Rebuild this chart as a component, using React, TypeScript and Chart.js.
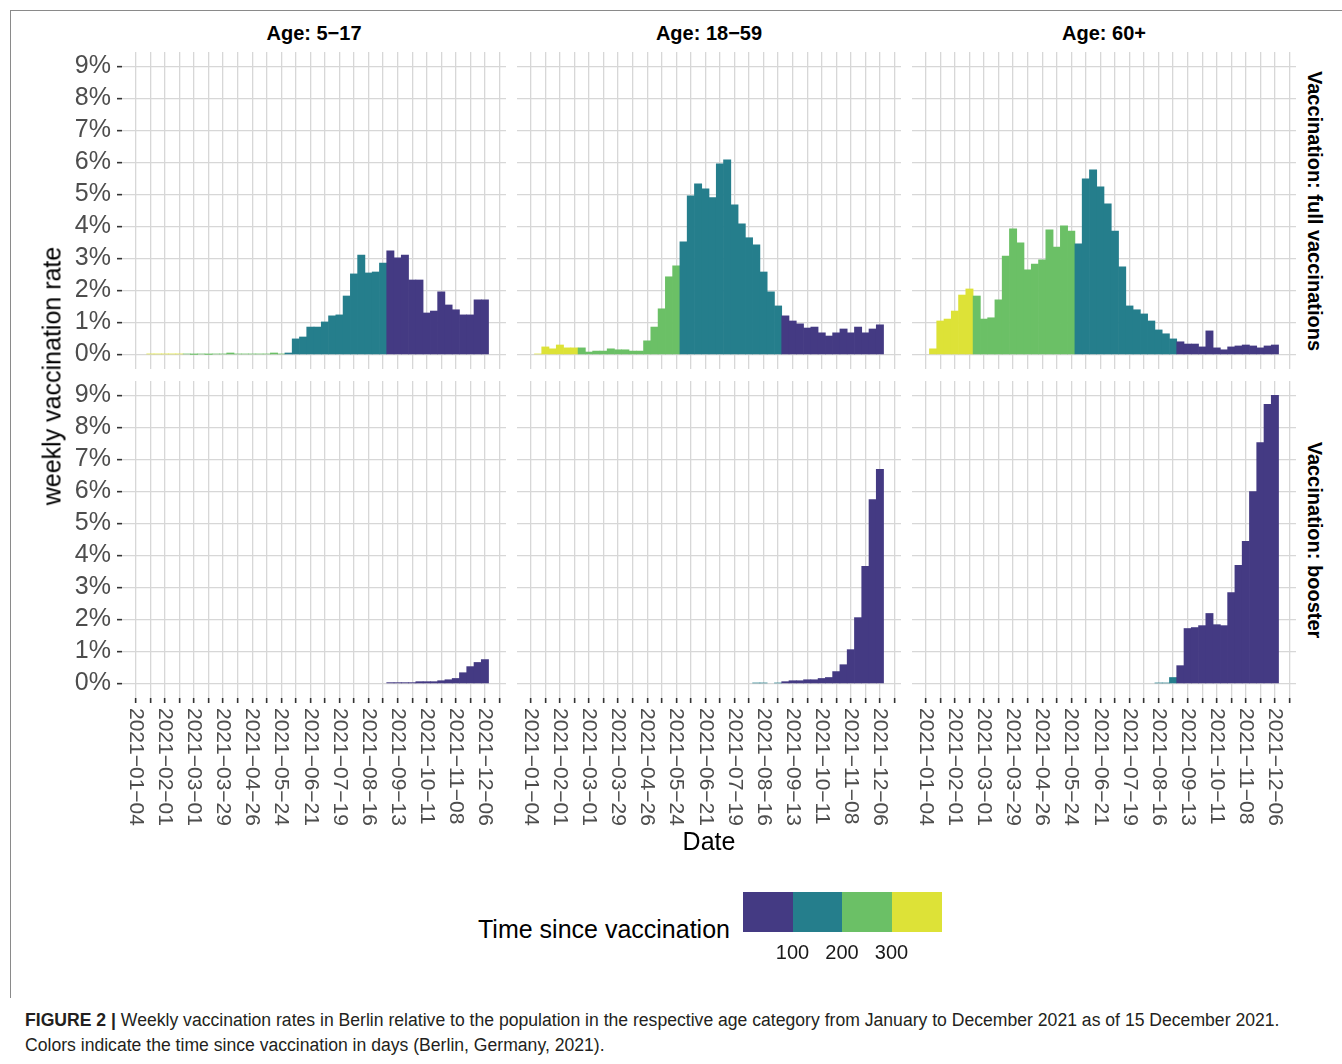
import React, { useEffect, useRef } from "react";
import { Chart, registerables } from "chart.js";

Chart.register(...registerables);

// ---------- data ----------
const WEEKS = [
  "2021-01-11", "2021-01-18", "2021-01-25", "2021-02-01", "2021-02-08", "2021-02-15",
  "2021-02-22", "2021-03-01", "2021-03-08", "2021-03-15", "2021-03-22", "2021-03-29",
  "2021-04-05", "2021-04-12", "2021-04-19", "2021-04-26", "2021-05-03", "2021-05-10",
  "2021-05-17", "2021-05-24", "2021-05-31", "2021-06-07", "2021-06-14", "2021-06-21",
  "2021-06-28", "2021-07-05", "2021-07-12", "2021-07-19", "2021-07-26", "2021-08-02",
  "2021-08-09", "2021-08-16", "2021-08-23", "2021-08-30", "2021-09-06", "2021-09-13",
  "2021-09-20", "2021-09-27", "2021-10-04", "2021-10-11", "2021-10-18", "2021-10-25",
  "2021-11-01", "2021-11-08", "2021-11-15", "2021-11-22", "2021-11-29", "2021-12-06",
];

const FULL_5_17 = [
  null, 0.02, 0.02, 0.02, 0.02, 0.02, 0.02, 0.005, 0.02, 0.005, 0.02, 0.02,
  0.05, 0.02, 0.02, 0.02, 0.02, 0.02, 0.05, 0.02, 0.05, 0.49, 0.55, 0.86,
  0.86, 1.02, 1.21, 1.24, 1.83, 2.52, 3.11, 2.55, 2.58, 2.86, 3.24, 3.02,
  3.11, 2.33, 2.33, 1.3, 1.36, 1.96, 1.55, 1.4, 1.24, 1.24, 1.71, 1.71,
];
const FULL_18_59 = [
  0.02, 0.24, 0.18, 0.3, 0.21, 0.21, 0.21, 0.08, 0.11, 0.11, 0.18, 0.15,
  0.15, 0.11, 0.11, 0.43, 0.86, 1.43, 2.43, 2.77, 3.52, 4.96, 5.33, 5.18,
  4.9, 5.96, 6.08, 4.68, 4.08, 3.65, 3.43, 2.58, 1.96, 1.52, 1.21, 1.05,
  0.96, 0.83, 0.86, 0.68, 0.58, 0.68, 0.8, 0.68, 0.86, 0.68, 0.8, 0.93,
];
const FULL_60_PLUS = [
  0.18, 1.05, 1.11, 1.36, 1.86, 2.05, 1.83, 1.11, 1.15, 1.71, 3.08, 3.93,
  3.49, 2.65, 2.83, 2.96, 3.9, 3.36, 4.02, 3.86, 3.46, 5.49, 5.77, 5.24,
  4.71, 3.86, 2.74, 1.52, 1.4, 1.27, 1.05, 0.77, 0.65, 0.49, 0.4, 0.33,
  0.33, 0.24, 0.74, 0.21, 0.15, 0.24, 0.27, 0.3, 0.27, 0.21, 0.27, 0.3,
];
const BOOSTER_5_17 = [
  null, null, null, null, null, null, null, null, null, null, null, null,
  null, null, null, null, null, null, null, null, null, null, null, null,
  null, null, null, null, null, null, null, null, null, null, 0.03, 0.03,
  0.03, 0.03, 0.06, 0.06, 0.06, 0.09, 0.12, 0.16, 0.34, 0.53, 0.66, 0.75,
];
const BOOSTER_18_59 = [
  null, null, null, null, null, null, null, null, null, null, null, null,
  null, null, null, null, null, null, null, null, null, null, null, null,
  null, null, null, null, null, null, 0.02, 0.02, null, 0.02, 0.06, 0.09,
  0.09, 0.12, 0.12, 0.16, 0.19, 0.375, 0.59, 1.06, 2.06, 3.66, 5.75, 6.69,
];
const BOOSTER_60_PLUS = [
  null, null, null, null, null, null, null, null, null, null, null, null,
  null, null, null, null, null, null, null, null, null, null, null, null,
  null, null, null, null, null, null, null, 0.02, 0.02, 0.19, 0.56, 1.72,
  1.75, 1.81, 2.19, 1.84, 1.81, 2.84, 3.69, 4.44, 6.0, 7.53, 8.72, 9.0,
];

const AGE_GROUPS = ["Age: 5\u221217", "Age: 18\u221259", "Age: 60+"];
const ROW_LABELS = ["Vaccination: full vaccinations", "Vaccination: booster"];
const SERIES = [
  [FULL_5_17, FULL_18_59, FULL_60_PLUS],
  [BOOSTER_5_17, BOOSTER_18_59, BOOSTER_60_PLUS],
];

const X_GRID_DATES = [
  "2021-01-04", "2021-01-18", "2021-02-01", "2021-02-15", "2021-03-01", "2021-03-15",
  "2021-03-29", "2021-04-12", "2021-04-26", "2021-05-10", "2021-05-24", "2021-06-07",
  "2021-06-21", "2021-07-05", "2021-07-19", "2021-08-02", "2021-08-16", "2021-08-30",
  "2021-09-13", "2021-09-27", "2021-10-11", "2021-10-25", "2021-11-08", "2021-11-22",
  "2021-12-06", "2021-12-20",
];
const X_LABEL_DATES = [
  "2021-01-04", "2021-02-01", "2021-03-01", "2021-03-29", "2021-04-26", "2021-05-24",
  "2021-06-21", "2021-07-19", "2021-08-16", "2021-09-13", "2021-10-11", "2021-11-08",
  "2021-12-06",
];
const Y_TICKS = [0, 1, 2, 3, 4, 5, 6, 7, 8, 9];

const AS_OF = "2021-12-15";
const LEGEND_BREAKS = [100, 200, 300];
const LEGEND_COLORS = ["#443A83", "#257E8C", "#6BC066", "#DDE237"];

// ---------- helpers / style ----------
const FONT = '"Liberation Sans", Arial, Helvetica, sans-serif';
const GRID = "#D7D7D7";
const ORIGIN = Date.UTC(2021, 0, 4);
function dayNum(d: string) {
  const [y, m, dd] = d.split("-").map(Number);
  return (Date.UTC(y, m - 1, dd) - ORIGIN) / 86400000;
}
function colorFor(d: string) {
  const since = dayNum(AS_OF) - dayNum(d);
  let i = 0;
  while (i < LEGEND_BREAKS.length && since > LEGEND_BREAKS[i]) i++;
  return LEGEND_COLORS[i];
}

const X_MIN = -13.3;
const X_MAX = 356.3;
const Y_MIN = -0.45;
const Y_MAX = 9.45;

const PANEL_LEFT = [122, 517, 912];
const PANEL_W = 384;
const ROW_TOP = [52, 381];
const PANEL_H = 317;
const Y_AXIS_LEFT = 60;
const X_AXIS_H = 140;

function Panel({ col, row }: { col: number; row: number }) {
  const ref = useRef<HTMLCanvasElement>(null);
  const values = SERIES[row][col];
  const yAxisW = col === 0 ? PANEL_LEFT[0] - Y_AXIS_LEFT : 0;
  const left = PANEL_LEFT[col] - yAxisW;
  const width = PANEL_W + yAxisW;
  const xAxisH = row === 1 ? X_AXIS_H : 0;
  const height = PANEL_H + xAxisH;

  useEffect(() => {
    const showXLabels = row === 1;
    const xLabelPlugin = {
      id: "xlabels",
      afterDraw(chart: any) {
        if (!showXLabels) return;
        const s = chart.scales.x;
        const ctx = chart.ctx;
        ctx.save();
        ctx.font = `21px ${FONT}`;
        ctx.fillStyle = "#4D4D4D";
        ctx.textAlign = "left";
        ctx.textBaseline = "middle";
        const y0 = chart.chartArea.bottom + 10;
        for (const d of X_LABEL_DATES) {
          const x = s.getPixelForValue(dayNum(d));
          ctx.save();
          ctx.translate(x, y0);
          ctx.rotate(Math.PI / 2);
          ctx.fillText(d.replace(/-/g, "\u2212"), 0, 0);
          ctx.restore();
        }
        ctx.restore();
      },
    };
    const chart = new Chart(ref.current as HTMLCanvasElement, {
      type: "bar",
      data: {
        datasets: [
          {
            data: WEEKS.map((d, i) => ({ x: dayNum(d), y: values[i] })) as any,
            backgroundColor: WEEKS.map((d) => colorFor(d)),
            borderWidth: 0,
            barPercentage: 1,
            categoryPercentage: 1,
          },
        ],
      },
      options: {
        animation: false,
        responsive: false,
        maintainAspectRatio: false,
        devicePixelRatio: 1,
        layout: { padding: 0 },
        plugins: { legend: { display: false }, tooltip: { enabled: false }, title: { display: false } },
        scales: {
          x: {
            type: "linear",
            min: X_MIN,
            max: X_MAX,
            offset: false,
            grid: {
              offset: false,
              color: GRID,
              lineWidth: 1.3,
              drawTicks: row === 1,
              tickLength: 5,
              tickColor: "#333333",
              tickWidth: 1.6,
            },
            border: { display: false },
            ticks: { display: false, autoSkip: false },
            afterBuildTicks: (s: any) => {
              s.ticks = X_GRID_DATES.map((d) => ({ value: dayNum(d) }));
            },
            afterFit: (s: any) => {
              s.height = xAxisH;
              s.paddingLeft = 0;
              s.paddingRight = 0;
              s.paddingTop = 0;
              s.paddingBottom = 0;
            },
          },
          y: {
            type: "linear",
            min: Y_MIN,
            max: Y_MAX,
            beginAtZero: false,
            grid: {
              color: GRID,
              lineWidth: 1.3,
              drawTicks: col === 0,
              tickLength: 5,
              tickColor: "#333333",
              tickWidth: 1.6,
            },
            border: { display: false },
            ticks: {
              display: col === 0,
              autoSkip: false,
              padding: 6,
              color: "#4D4D4D",
              font: { family: FONT, size: 25 },
              callback: (v: any) => `${v}%`,
            },
            afterBuildTicks: (s: any) => {
              s.ticks = Y_TICKS.map((v) => ({ value: v }));
            },
            afterFit: (s: any) => {
              s.width = yAxisW;
              s.paddingLeft = 0;
              s.paddingRight = 0;
              s.paddingTop = 0;
              s.paddingBottom = 0;
            },
          },
        },
      } as any,
      plugins: [xLabelPlugin],
    });
    return () => chart.destroy();
  }, []);

  return (
    <canvas
      ref={ref}
      width={width}
      height={height}
      style={{ position: "absolute", left, top: ROW_TOP[row], width, height }}
    />
  );
}

function Text({
  x,
  y,
  children,
  size,
  bold,
  rotate,
  color,
  align,
}: {
  x: number;
  y: number;
  children: any;
  size: number;
  bold?: boolean;
  rotate?: number;
  color?: string;
  align?: "center" | "left";
}) {
  const tx = align === "left" ? "0" : "-50%";
  return (
    <div
      style={{
        position: "absolute",
        left: x,
        top: y,
        transform: `translate(${tx}, -50%)${rotate ? ` rotate(${rotate}deg)` : ""}`,
        fontFamily: FONT,
        fontSize: size,
        fontWeight: bold ? "bold" : "normal",
        color: color || "#000",
        whiteSpace: "nowrap",
        lineHeight: 1,
      }}
    >
      {children}
    </div>
  );
}

export default function App() {
  const legendX = 743;
  const segW = 49.5;
  return (
    <div
      style={{
        position: "absolute",
        left: 0,
        top: 0,
        width: 1342,
        height: 1064,
        background: "#fff",
        overflow: "hidden",
      }}
    >
      <div
        style={{
          position: "absolute",
          left: 10,
          top: 10,
          width: 1332,
          height: 987,
          borderTop: "1px solid #8a8a8a",
          borderLeft: "1px solid #8a8a8a",
        }}
      />
      {[0, 1].map((r) => [0, 1, 2].map((c) => <Panel key={`${r}-${c}`} col={c} row={r} />))}
      {AGE_GROUPS.map((g, c) => (
        <Text key={g} x={PANEL_LEFT[c] + PANEL_W / 2} y={33} size={20} bold>
          {g}
        </Text>
      ))}
      {ROW_LABELS.map((l, r) => (
        <Text key={l} x={1315} y={ROW_TOP[r] + PANEL_H / 2} size={20} bold rotate={90}>
          {l}
        </Text>
      ))}
      <Text x={52} y={376} size={25} rotate={-90}>
        weekly vaccination rate
      </Text>
      <Text x={709} y={841} size={25}>
        Date
      </Text>
      <Text x={478} y={929} size={25} align="left">
        Time since vaccination
      </Text>
      {LEGEND_COLORS.map((c, i) => (
        <div
          key={c}
          style={{
            position: "absolute",
            left: legendX + segW * i,
            top: 892,
            width: segW + 0.5,
            height: 40,
            background: c,
          }}
        />
      ))}
      {LEGEND_BREAKS.map((b, i) => (
        <Text key={b} x={legendX + segW * (i + 1)} y={952} size={20} color="#1a1a1a">
          {b}
        </Text>
      ))}
      <Text x={25} y={1021} size={17.6} align="left" color="#231f20">
        <b>FIGURE 2 |</b> Weekly vaccination rates in Berlin relative to the population in the respective age
        category from January to December 2021 as of 15 December 2021.
      </Text>
      <Text x={25} y={1046} size={17.6} align="left" color="#231f20">
        Colors indicate the time since vaccination in days (Berlin, Germany, 2021).
      </Text>
    </div>
  );
}
